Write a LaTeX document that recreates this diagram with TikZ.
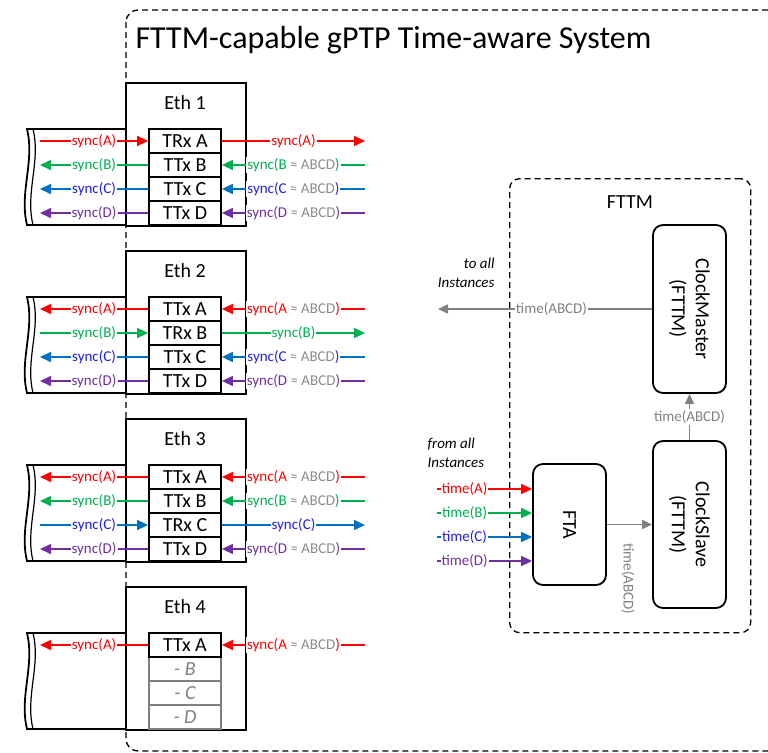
\documentclass[tikz,border=0pt]{standalone}
\usepackage{fontspec}
\setmainfont{Carlito}
\usepackage{xcolor}
\usetikzlibrary{arrows.meta}
\definecolor{sigred}{HTML}{FF0000}
\definecolor{siggreen}{HTML}{00B050}
\definecolor{sigblue}{HTML}{0070C0}
\definecolor{txtblue}{HTML}{2020E6}
\definecolor{sigpurple}{HTML}{7030A0}
\definecolor{grey}{HTML}{808080}
\definecolor{greytxt}{HTML}{8C8C8C}
\newcommand\fttitle{\fontsize{32}{38}\selectfont}
\newcommand\ftbig{\fontsize{20}{24}\selectfont}
\newcommand\ftsmall{\fontsize{15}{19}\selectfont}

\begin{document}
\begin{tikzpicture}[
  x=1pt, y=-1pt,
  sysbox/.style={draw, line width=1.3pt, dash pattern=on 6pt off 4pt,
    rounded corners=12pt},
  ethbox/.style={draw, line width=1.8pt, minimum width=120pt,
    minimum height=143pt, inner sep=0pt, anchor=north west},
  cable/.style={draw, line width=1.8pt},
  portbox/.style={draw, line width=1.8pt, fill=white, minimum width=72pt,
    minimum height=24pt, inner sep=0pt, font=\ftbig},
  idlebox/.style={portbox, draw=grey, text=grey, font=\ftbig\itshape},
  sig/.style={line width=1.5pt, -{Triangle[length=11pt,width=10pt]}},
  lab/.style={fill=white, inner sep=1pt, font=\ftsmall},
  clockbox/.style={draw, line width=1.8pt, rounded corners=10pt, fill=white,
    rotate=-90, align=center, font=\ftbig, inner sep=0pt},
  gflow/.style={draw=grey, line width=1.5pt, -{Triangle[length=10pt,width=9pt]}},
  glab/.style={fill=white, inner sep=1pt, text=grey, font=\ftsmall},
]
\useasboundingbox (0,0) rectangle (768,752);

% system border and title
\draw[sysbox] (126,10) rectangle (800,751);
\node[font=\fttitle, anchor=west] (title) at (132,40)
  {FTTM-capable gPTP Time-aware System};

% Ethernet ports with a receiving row
\foreach \p/\top/\rx in {1/82/1, 2/250/2, 3/418/3} {
  \node[ethbox] (eth\p) at (125,\top) {};
  \node[font=\ftbig] (eth\p lbl) at (185,\top+21) {Eth \p};
  \draw[cable] (125,\top+47) -- (27,\top+47)
    .. controls (35,\top+80) and (19,\top+110) .. (27,\top+143) -- (125,\top+143);
  \draw[line width=1.2pt] (33,\top+47)
    .. controls (41,\top+80) and (25,\top+110) .. (33,\top+143);
  \foreach \r/\col/\tc [count=\i] in {A/sigred/sigred, B/siggreen/siggreen,
      C/sigblue/txtblue, D/sigpurple/sigpurple} {
    \pgfmathsetmacro\y{\top+59+24*(\i-1)}
    \coordinate (p\p\r w) at (40,\y);
    \coordinate (p\p\r e) at (365,\y);
    \ifnum\i=\rx
      \node[portbox] (p\p\r) at (185,\y) {TRx \r};
      \draw[sig, draw=\col] (p\p\r w) -- node[lab, text=\tc] {sync(\r)} (p\p\r);
      \draw[sig, draw=\col] (p\p\r) -- node[lab, text=\tc] {sync(\r)} (p\p\r e);
    \else
      \node[portbox] (p\p\r) at (185,\y) {TTx \r};
      \draw[sig, draw=\col] (p\p\r) -- node[lab, text=\tc] {sync(\r)} (p\p\r w);
      \draw[sig, draw=\col] (p\p\r e) --
        node[lab, text=\tc] {sync(\r\ \textcolor{greytxt}{≈ ABCD})} (p\p\r);
    \fi
  }
}

% Ethernet port 4, transmit only
\node[ethbox] (eth4) at (125,586) {};
\node[font=\ftbig] (eth4lbl) at (185,607) {Eth 4};
\draw[cable] (125,633) -- (27,633)
  .. controls (35,666) and (19,696) .. (27,729) -- (125,729);
\draw[line width=1.2pt] (33,633) .. controls (41,666) and (25,696) .. (33,729);
\foreach \r [count=\i] in {B,C,D}
  \node[idlebox] (p4\r) at (185,645+24*\i) {- \r};
\node[portbox] (p4A) at (185,645) {TTx A};
\coordinate (p4Aw) at (40,645);
\coordinate (p4Ae) at (365,645);
\draw[sig, draw=sigred] (p4A) -- node[lab, text=sigred] {sync(A)} (p4Aw);
\draw[sig, draw=sigred] (p4Ae) --
  node[lab, text=sigred] {sync(A\ \textcolor{greytxt}{≈ ABCD})} (p4A);

% FTTM
\node[sysbox, rounded corners=10pt, minimum width=241pt, minimum height=454pt,
  anchor=north west, inner sep=0pt] (fttm) at (509,178) {};
\node[font=\ftbig] (fttmlbl) at (630,202) {FTTM};
\node[clockbox, minimum width=168pt, minimum height=73pt] (cmaster)
  at (689.5,309) {ClockMaster\\(FTTM)};
\node[clockbox, minimum width=167pt, minimum height=73pt] (cslave)
  at (689.5,524.5) {ClockSlave\\(FTTM)};
\node[clockbox, minimum width=121pt, minimum height=73pt] (fta)
  at (569.5,524.5) {FTA};

\coordinate (toall) at (438,309);
\draw[gflow] (cmaster) -- node[glab, pos=0.47] {time(ABCD)} (toall);
\node[font=\ftsmall\itshape, align=right, anchor=east] (toalllbl)
  at (498,273) {to all\\Instances};
\draw[gflow] (cslave) -- node[glab] {time(ABCD)} (cmaster);
\draw[gflow] (fta) -- (cslave);
\node[glab, fill=none, rotate=-90] (ftalbl) at (628,579) {time(ABCD)};

\node[font=\ftsmall\itshape, align=left, anchor=west] (fromalllbl)
  at (424,453) {from all\\Instances};
\foreach \r/\col/\tc [count=\i] in {A/sigred/sigred, B/siggreen/siggreen,
    C/sigblue/txtblue, D/sigpurple/sigpurple} {
  \coordinate (t\r) at (437,465+24*\i);
  \draw[sig, draw=\col] (t\r) -- node[lab, text=\tc, pos=0.29] {time(\r)}
    (t\r -| fta.south);
}
\end{tikzpicture}
\end{document}
